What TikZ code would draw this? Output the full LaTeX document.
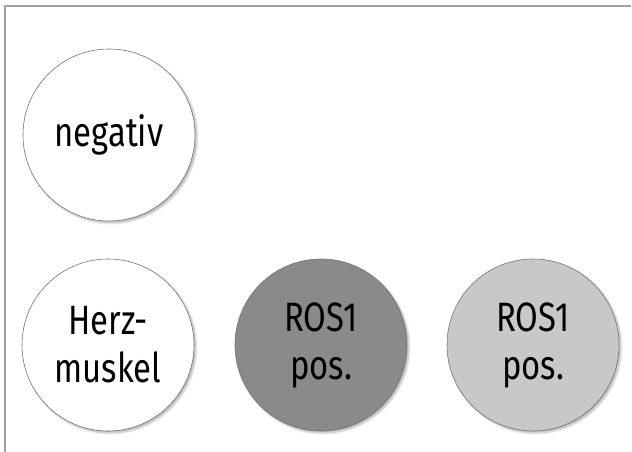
\documentclass[tikz,border=0pt]{standalone}
\usepackage{fontspec}
\setmainfont{Fira Sans}[FakeStretch=0.8]
\usepackage{tikz}
\usetikzlibrary{shadows.blur}

\definecolor{darkpos}{HTML}{8A8A8A}
\definecolor{lightpos}{HTML}{C8C8C8}
\definecolor{framegray}{HTML}{A0A0A0}

\begin{document}
\begin{tikzpicture}[x=1pt,y=-1pt]
        \useasboundingbox (0,0) rectangle (632,452);
        \tikzstyle{every node} = [circle, draw=black!55, line width=0.6pt,
            minimum size=172pt, inner sep=0pt, align=center,
            font=\fontsize{41}{48}\selectfont,
            blur shadow={shadow xshift=2pt, shadow yshift=-2pt, shadow opacity=30, shadow blur steps=6}]
        % frame
        \draw[framegray, line width=1.2pt] (631,6) -- (5,6) -- (5,452);

        \node[fill=white] (neg) at (109,135) {negativ};
        \node[fill=white] (herz) at (108,345) {Herz-\\muskel};
        \node[fill=darkpos] (ros1dark) at (321,345) {ROS1\\pos.};
        \node[fill=lightpos] (ros1light) at (533,345) {ROS1\\pos.};
    \end{tikzpicture}
\end{document}
